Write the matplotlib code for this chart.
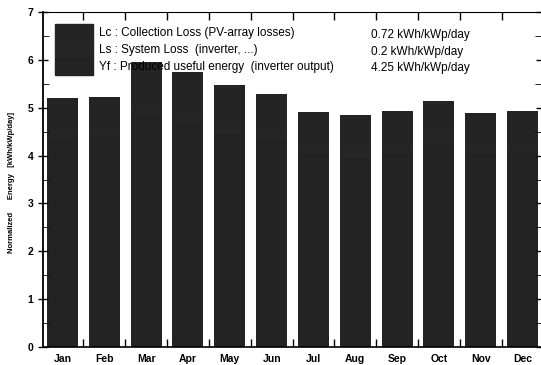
import numpy as np
import matplotlib.pyplot as plt
from matplotlib.patches import Patch
from matplotlib.ticker import MultipleLocator, FixedLocator

plt.rcParams['font.family'] = ['Liberation Sans', 'DejaVu Sans']

months = ['Jan', 'Feb', 'Mar', 'Apr', 'May', 'Jun',
          'Jul', 'Aug', 'Sep', 'Oct', 'Nov', 'Dec']
# normalized energy, kWh/kWp/day
yf = [4.35, 4.36, 4.85, 4.68, 4.47, 4.33, 4.05, 3.98, 4.06, 4.26, 4.05, 4.08]
ls = [0.20, 0.21, 0.23, 0.22, 0.21, 0.20, 0.19, 0.19, 0.19, 0.20, 0.19, 0.19]
lc = [0.66, 0.66, 0.88, 0.85, 0.80, 0.76, 0.68, 0.68, 0.69, 0.69, 0.66, 0.67]

legend_labels = ['Lc : Collection Loss (PV-array losses)',
                 'Ls : System Loss  (inverter, ...)',
                 'Yf : Produced useful energy  (inverter output)']
legend_values = ['0.72 kWh/kWp/day', '0.2 kWh/kWp/day', '4.25 kWh/kWp/day']

c_yf, c_ls, c_lc = '#232323', '#252525', '#242424'

fig = plt.figure(figsize=(5.41, 3.65), dpi=100)
ax = fig.add_axes([43/541, 18/365, 498/541, 335/365])

x = np.arange(len(months))
yf = np.array(yf); ls = np.array(ls); lc = np.array(lc)
kw = dict(width=0.74, linewidth=0, antialiased=False)
ax.bar(x, yf, color=c_yf, **kw)
ax.bar(x, ls, bottom=yf, color=c_ls, **kw)
ax.bar(x, lc, bottom=yf + ls, color=c_lc, **kw)

ax.set_xlim(-0.466, 11.44)
ax.set_ylim(0, 7)

ax.set_xticks(x)
ax.set_xticklabels(months, fontsize=7.5, fontweight='bold')
ax.xaxis.set_minor_locator(FixedLocator(np.arange(0.5, 11.5, 1)))
ax.tick_params(axis='x', which='major', length=0, pad=5)
ax.tick_params(axis='x', which='minor', direction='in', length=6,
               top=True, bottom=True, width=1)

ax.yaxis.set_major_locator(MultipleLocator(1))
ax.yaxis.set_minor_locator(MultipleLocator(0.5))
ax.tick_params(axis='y', which='major', direction='inout', length=7,
               labelsize=7.5, right=True, width=1)
ax.tick_params(axis='y', which='minor', direction='in', length=4, right=True)
for lab in ax.get_yticklabels():
    lab.set_fontweight('bold')

ax.spines['right'].set_visible(False)
ax.spines['left'].set_linewidth(1.3)
ax.spines['bottom'].set_linewidth(1.2)
ax.spines['top'].set_linewidth(0.8)
ax.spines['top'].set_linestyle((0, (4, 1)))

fig.text(12/541, 0.5, 'Normalized      Energy   [kWh/kWp/day]',
         rotation=90, ha='center', va='center', fontsize=5.5, fontweight='bold')

handles = [Patch(color=c_lc), Patch(color=c_ls), Patch(color=c_yf)]
ax.legend(handles, legend_labels, loc='upper left',
          bbox_to_anchor=(0.024, 0.964), frameon=False, fontsize=8.5,
          handlelength=3.2, handleheight=1.84, labelspacing=0,
          handletextpad=0.5, borderpad=0, borderaxespad=0)

for val, yy in zip(legend_values, [0.932, 0.881, 0.833]):
    ax.text(0.658, yy, val, transform=ax.transAxes, fontsize=8.5,
            va='center', ha='left')

fig.savefig('out.png', dpi=100)
